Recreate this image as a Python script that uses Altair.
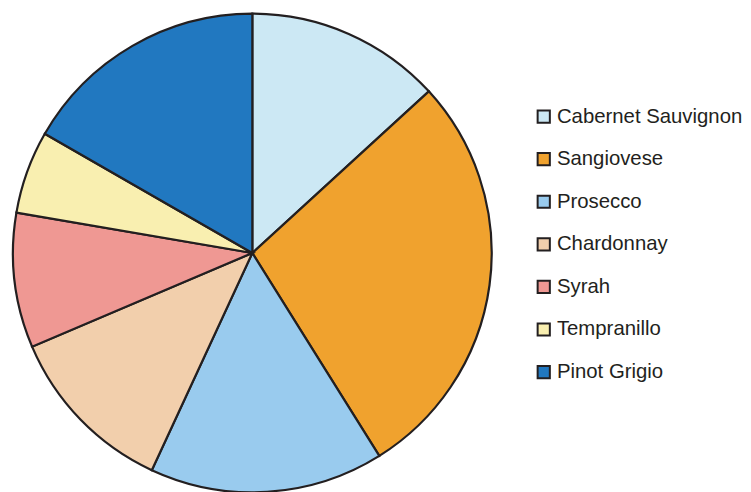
import altair as alt
import pandas as pd

varieties = ["Cabernet Sauvignon", "Sangiovese", "Prosecco", "Chardonnay",
             "Syrah", "Tempranillo", "Pinot Grigio"]
shares = [13.2, 27.9, 15.8, 11.7, 9.1, 5.6, 16.7]
colors = ["#cce8f4", "#f0a22e", "#99cbee", "#f2cfac", "#ef9893", "#f9efb0", "#2178c0"]

df = pd.DataFrame({"variety": varieties, "share": shares, "idx": list(range(len(varieties)))})

chart = alt.Chart(df).mark_arc(
    outerRadius=240, stroke="#231f20", strokeWidth=2.2
).encode(
    theta=alt.Theta("share:Q", stack=True),
    order=alt.Order("idx:Q", sort="ascending"),
    color=alt.Color(
        "variety:N",
        scale=alt.Scale(domain=varieties, range=colors),
        sort=varieties,
        legend=alt.Legend(
            title=None, orient="none", legendX=526, legendY=98,
            symbolType="square", symbolSize=150, symbolStrokeColor="#231f20",
            symbolStrokeWidth=2, symbolOpacity=1,
            labelFont="Liberation Sans", labelFontSize=20.4, labelColor="#231f20",
            labelOffset=3, rowPadding=21.7, padding=0, labelLimit=300,
        ),
    ),
).properties(width=488, height=490, padding=0).configure_view(stroke=None)

chart.save("out.html", embed_options={"renderer": "svg", "actions": False})
